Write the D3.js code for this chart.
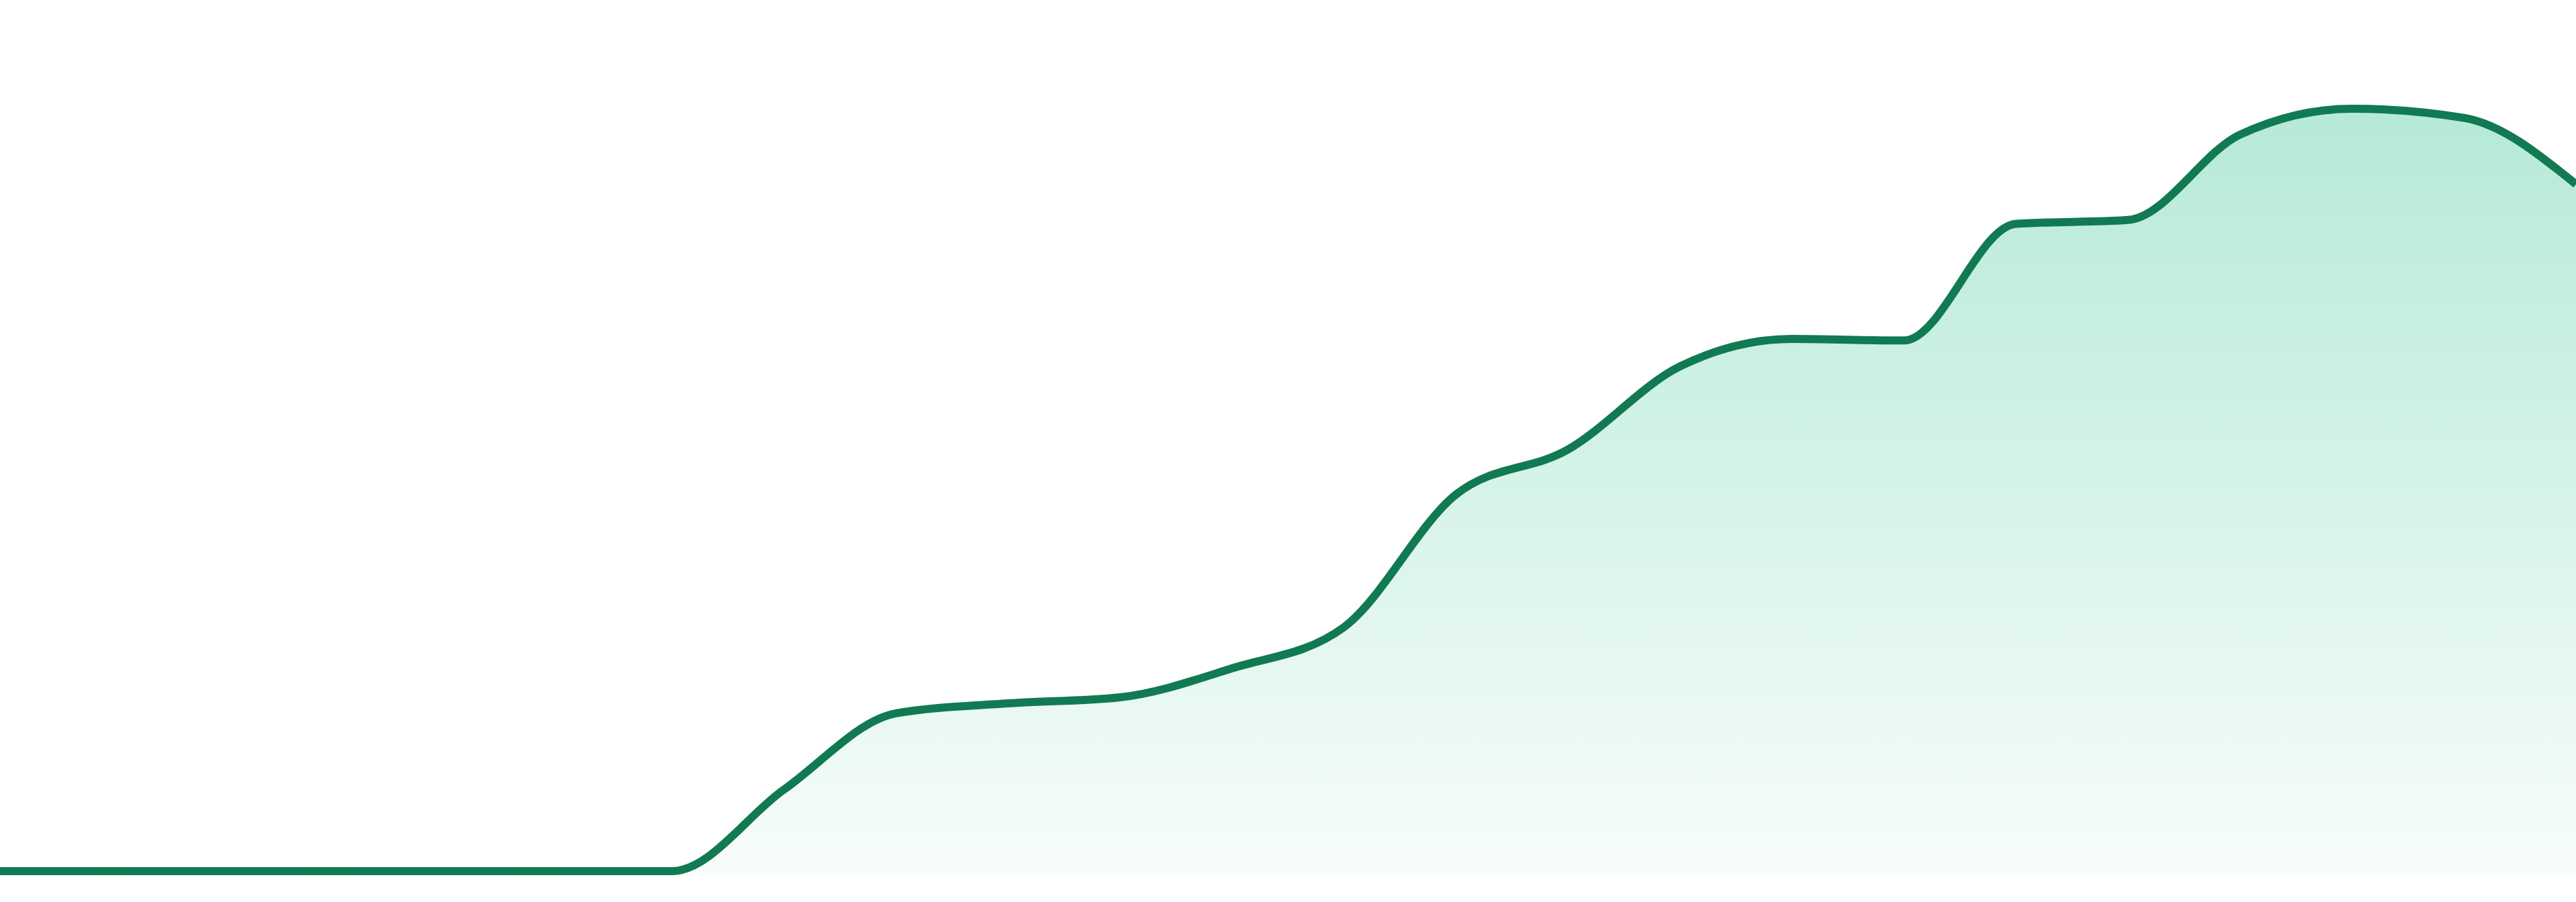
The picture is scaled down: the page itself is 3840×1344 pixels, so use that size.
<!DOCTYPE html>
<html>
<head>
<meta charset="utf-8">
<title>Area trend</title>
<script src="https://cdn.jsdelivr.net/npm/d3@7"></script>
<style>
    html, body { margin: 0; padding: 0; background: #fff; overflow: hidden; }
    #chart svg { display: block; }
</style>
</head>
<body>
<div id="chart"></div>
<script>
// 24 evenly spaced samples (0 = flat start, 100 = peak)
var periods = d3.range(24);
var values = [0, 0, 0, 0, 0, 0, 0, 10.7, 20.7, 22.0, 22.8, 26.6, 32.0, 49.4, 55.3, 66.2, 69.8, 69.6, 84.9, 85.4, 96.6, 100, 98.8, 90.1];

function init() {

    var width = 3840;
    var height = 1344;

    // x runs edge to edge, y leaves a little room top and bottom
    var x = d3.scaleLinear()
        .domain([0, periods.length - 1])
        .range([0, width]);

    var y = d3.scaleLinear()
        .domain([0, 100])
        .range([1298, 162]);

    var baseline = -0.6;   // area floor sits just under the zero line

    var data = periods.map(function (p, i) {
        return { period: p, value: values[i] };
    });

    var svg = d3.select("#chart")
        .append("svg")
        .attr("width", width)
        .attr("height", height);

    var defs = svg.append("defs");
    var grad = defs.append("linearGradient")
        .attr("id", "fillGrad")
        .attr("x1", 0).attr("y1", 0)
        .attr("x2", 0).attr("y2", 1);
    grad.append("stop")
        .attr("offset", "0%")
        .attr("stop-color", "#10b981")
        .attr("stop-opacity", 0.31);
    grad.append("stop")
        .attr("offset", "100%")
        .attr("stop-color", "#10b981")
        .attr("stop-opacity", 0.03);

    var area = d3.area()
        .x(function (d) { return x(d.period); })
        .y0(y(baseline))
        .y1(function (d) { return y(d.value); })
        .curve(d3.curveMonotoneX);

    var line = d3.line()
        .x(function (d) { return x(d.period); })
        .y(function (d) { return y(d.value); })
        .curve(d3.curveMonotoneX);

    svg.append("path")
        .datum(data)
        .attr("d", area)
        .style("fill", "url(#fillGrad)");

    svg.append("path")
        .datum(data)
        .attr("d", line)
        .style("fill", "none")
        .style("stroke", "#117a52")
        .style("stroke-width", "12px")
        .style("stroke-linejoin", "round");
}

window.onload = init;
</script>
</body>
</html>
